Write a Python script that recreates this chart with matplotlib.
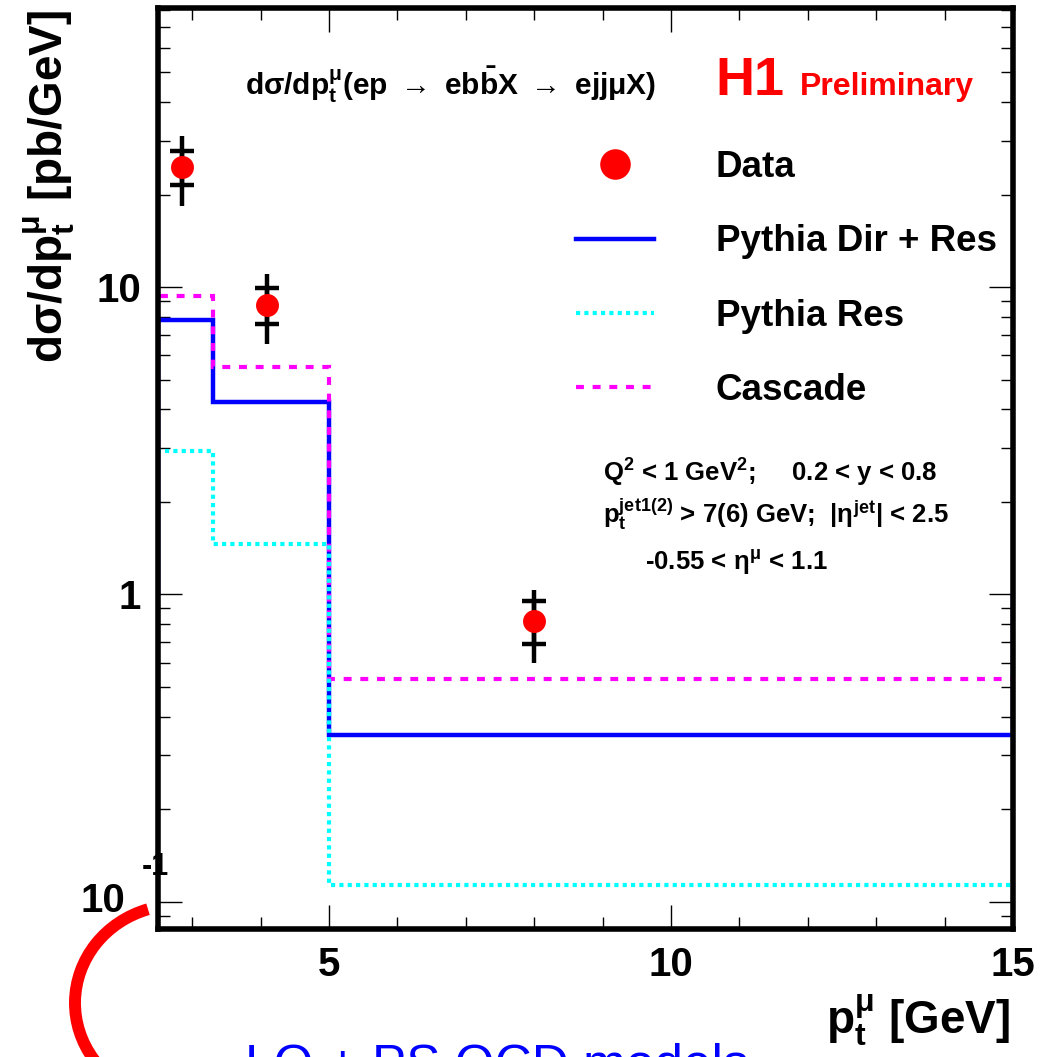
import numpy as np
import matplotlib
matplotlib.use("Agg")
import matplotlib.pyplot as plt
from matplotlib.lines import Line2D
from matplotlib.patches import Arc
from matplotlib.ticker import FixedLocator, FixedFormatter, MultipleLocator, NullFormatter, LogLocator

plt.rcParams['font.family'] = ['Liberation Sans', 'DejaVu Sans']
plt.rcParams['font.weight'] = 'bold'
plt.rcParams['mathtext.fontset'] = 'custom'
plt.rcParams['mathtext.rm'] = 'Liberation Sans:bold'
plt.rcParams['mathtext.it'] = 'Liberation Sans:bold'
plt.rcParams['mathtext.bf'] = 'Liberation Sans:bold'
plt.rcParams['mathtext.sf'] = 'Liberation Sans:bold'

# binning (GeV)
bin_edges = [2.5, 3.3, 5.0, 15.0]

# model predictions [pb/GeV]
pythia_dir_res = [7.81, 4.22, 0.350]
pythia_res = [2.92, 1.455, 0.1135]
cascade = [9.35, 5.48, 0.529]

# data points
data_x = [2.85, 4.10, 8.0]
data_y = [24.6, 8.74, 0.819]
stat_hi = [27.8, 9.9, 0.949]
stat_lo = [21.5, 7.57, 0.691]
tot_hi = [31.0, 11.0, 1.036]
tot_lo = [18.4, 6.52, 0.597]

xtick_vals = [5, 10, 15]
xtick_labels = ['5', '10', '15']
ytick_vals = [0.1, 1, 10]
ytick_labels = ['', '1', '10']

W, H = 1041, 1057
fig = plt.figure(figsize=(W / 100, H / 100), dpi=100)
ax = fig.add_axes([158 / W, (H - 929) / H, 855 / W, 921 / H])


def ax_xy(px, py):
    # pixel position -> axes fraction
    return (px - 158) / 855, (929 - py) / 921


ax.set_yscale('log')
ax.set_xlim(2.5, 15)
ax.set_ylim(0.0815, 81)

# histograms, baseline at 1 like the ROOT log drawing
ax.stairs(pythia_dir_res, bin_edges, baseline=1.0, color='#0000ff', lw=3.2, zorder=2)
ax.stairs(cascade, bin_edges, baseline=1.0, color='#ff00ff', lw=3.0,
          linestyle=(0, (1.9, 2.1)), zorder=2.1)
ax.stairs(pythia_res, bin_edges, baseline=1.0, color='#00ffff', lw=3.0,
          linestyle=(0, (1.0, 1.0)), zorder=2.2)

# data with stat (caps) and total errors
dy = np.array(data_y)
tot_err = [dy - np.array(tot_lo), np.array(tot_hi) - dy]
stat_err = [dy - np.array(stat_lo), np.array(stat_hi) - dy]
ax.errorbar(data_x, data_y, yerr=tot_err, fmt='none', ecolor='black', elinewidth=3.2, zorder=3)
ax.errorbar(data_x, data_y, yerr=stat_err, fmt='none', ecolor='black', elinewidth=3.2,
            capsize=8.3, capthick=3.2, zorder=3)
ax.plot(data_x, data_y, 'o', color='red', ms=16.5, mec='none', zorder=4)

# axes style
for s in ax.spines.values():
    s.set_linewidth(4)
    s.set_zorder(5)
ax.xaxis.set_major_locator(FixedLocator(xtick_vals))
ax.xaxis.set_major_formatter(FixedFormatter(xtick_labels))
ax.xaxis.set_minor_locator(MultipleLocator(1))
ax.yaxis.set_major_locator(FixedLocator(ytick_vals))
ax.yaxis.set_major_formatter(FixedFormatter(ytick_labels))
ax.yaxis.set_minor_locator(LogLocator(base=10, subs=np.arange(2, 10)))
ax.yaxis.set_minor_formatter(NullFormatter())
ax.tick_params(which='both', direction='in', top=True, right=True, color='black', width=1.0)
ax.tick_params(which='major', length=17)
ax.tick_params(which='minor', length=8.5)
ax.tick_params(axis='x', which='major', labelsize=29, pad=12)
ax.tick_params(axis='y', which='major', labelsize=29, pad=12)
for lab in ax.get_xticklabels() + ax.get_yticklabels():
    lab.set_fontweight('bold')

# ROOT-like 10^-1 label
x0, y0 = ax_xy(125, 901)
ax.text(x0, y0, '10', transform=ax.transAxes, ha='right', va='center',
        fontsize=29, fontweight='bold', clip_on=False)
x0, y0 = ax_xy(142, 867)
ax.text(x0, y0, '-1', transform=ax.transAxes, ha='left', va='center',
        fontsize=22, fontweight='bold', clip_on=False)

# axis labels
ax.set_xlabel(r'$\mathrm{p}_\mathrm{t}^{\mu}$ [GeV]', fontsize=33, fontweight='bold', loc='right')
ax.xaxis.set_label_coords(0.9965, (929 - 992) / 921)
ax.set_ylabel(r'd$\sigma$/d$\mathrm{p}_\mathrm{t}^{\mu}$ [pb/GeV]', fontsize=33,
              fontweight='bold', loc='top')
ax.yaxis.set_label_coords((77 - 158) / 855, (929 - 10) / 921)

# title-like formula and H1 tag
x0, y0 = ax_xy(245, 95)
ax.text(x0, y0, r'd$\sigma$/d$\mathrm{p}_\mathrm{t}^{\mu}$(ep $\rightarrow$ eb$\bar{\mathrm{b}}$X $\rightarrow$ ejj$\mu$X)',
        transform=ax.transAxes, ha='left', va='baseline', fontsize=21.5, fontweight='bold')
x0, y0 = ax_xy(715, 95)
ax.text(x0, y0, 'H1', transform=ax.transAxes, ha='left', va='baseline', fontsize=39,
        fontweight='bold', color='#ff0000')
x0, y0 = ax_xy(800, 95)
ax.text(x0, y0, 'Preliminary', transform=ax.transAxes, ha='left', va='baseline', fontsize=23,
        fontweight='bold', color='#ff0000')

# legend
handles = [
    Line2D([], [], marker='o', ls='none', color='red', mec='none', ms=22),
    Line2D([], [], color='#0000ff', lw=3.2),
    Line2D([], [], color='#00ffff', lw=3.0, linestyle=(0, (1.0, 1.0))),
    Line2D([], [], color='#ff00ff', lw=3.0, linestyle=(0, (1.9, 2.1))),
]
labels = ['Data', 'Pythia Dir + Res', 'Pythia Res', 'Cascade']
lx, ly = ax_xy(576, 150)
leg = ax.legend(handles, labels, loc='upper left', bbox_to_anchor=(lx, ly), frameon=False,
                prop={'size': 26.5, 'weight': 'bold'}, handlelength=2.12, handletextpad=1.68,
                labelspacing=1.07, borderpad=0, borderaxespad=0)

# cuts
cuts = [
    (603, 482, r'$\mathrm{Q}^2$ < 1 GeV$^2$;     0.2 < y < 0.8'),
    (603, 523, r'$\mathrm{p}_\mathrm{t}^\mathrm{jet1(2)}$ > 7(6) GeV;  |$\eta^\mathrm{jet}$| < 2.5'),
    (645, 570, r'-0.55 < $\eta^\mu$ < 1.1'),
]
for px, py, s in cuts:
    x0, y0 = ax_xy(px, py)
    ax.text(x0, y0, s, transform=ax.transAxes, ha='left', va='baseline', fontsize=18.5,
            fontweight='bold')

# slide decoration below the plot
arc = Arc((178 / W, 1 - 1003 / H), 2 * 103 / W, 2 * 98 / H, theta1=108, theta2=250,
          transform=fig.transFigure, color='#ff0000', lw=8.6, capstyle='butt')
fig.add_artist(arc)
fig.text(245 / W, 1 - 1081 / H, 'LO + PS QCD models', color='#0000ff', fontsize=37,
         fontweight='normal', ha='left', va='baseline')

fig.savefig('out.png', dpi=100)
